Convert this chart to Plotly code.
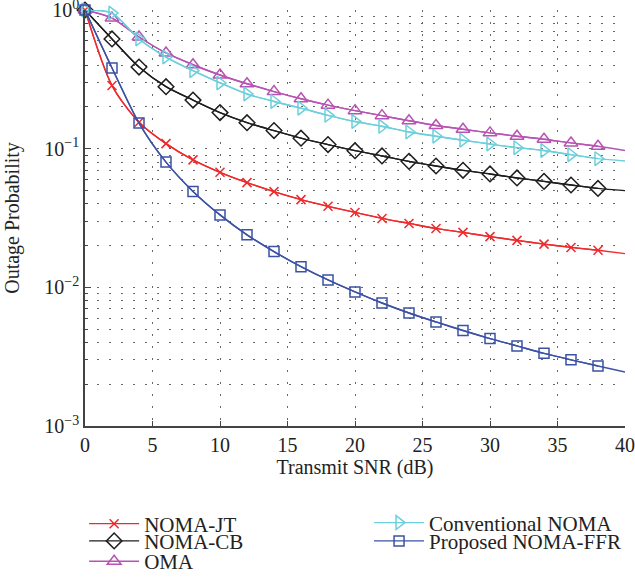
import plotly.graph_objects as go

snr = [0, 2, 4, 6, 8, 10, 12, 14, 16, 18, 20, 22, 24, 26, 28, 30, 32, 34, 36, 38, 40]

noma_jt = [1.0, 0.285, 0.155, 0.1087, 0.083, 0.0675, 0.0569, 0.049, 0.0429, 0.0384, 0.0347,
           0.0314, 0.0289, 0.0266, 0.0249, 0.0232, 0.0218, 0.0205, 0.0194, 0.0185, 0.0175]
noma_cb = [1.0, 0.618, 0.388, 0.280, 0.224, 0.182, 0.154, 0.135, 0.119, 0.107, 0.0967,
           0.0886, 0.081, 0.075, 0.0698, 0.0657, 0.0615, 0.0581, 0.0547, 0.0517, 0.0498]
oma = [1.0, 0.875, 0.639, 0.49, 0.403, 0.34, 0.294, 0.258, 0.229, 0.206, 0.188,
       0.173, 0.159, 0.147, 0.138, 0.130, 0.123, 0.117, 0.110, 0.104, 0.097]
conv_noma = [1.0, 0.95, 0.618, 0.458, 0.365, 0.298, 0.248, 0.219, 0.196, 0.174, 0.157,
             0.145, 0.132, 0.123, 0.115, 0.108, 0.1017, 0.097, 0.0905, 0.0847, 0.0815]
noma_ffr = [1.0, 0.382, 0.153, 0.080, 0.0492, 0.0333, 0.0239, 0.0181, 0.0141, 0.0113, 0.00927,
            0.00771, 0.00653, 0.00563, 0.00488, 0.00427, 0.00378, 0.00334, 0.0030, 0.00271, 0.00245]

names = ["NOMA-JT", "NOMA-CB", "OMA", "Conventional NOMA", "Proposed NOMA-FFR"]
series = [noma_jt, noma_cb, oma, conv_noma, noma_ffr]
colors = ["#ee2a2c", "#1e1e1e", "#b853b3", "#6ccfdc", "#3b52a5"]
symbols = ["x-thin-open", "diamond-open", "triangle-up-open", "triangle-right-open", "square-open"]
msizes = [9, 12, 12, 12, 10]
legend_ids = ["legend", "legend2", "legend3", "legend4", "legend5"]

y_tickvals = [1e-3, 1e-2, 1e-1, 1]
y_ticktext = ["10<sup>\u22123</sup>", "10<sup>\u22122</sup>", "10<sup>\u22121</sup>", "10<sup>0</sup>"]
x_tickvals = [0, 5, 10, 15, 20, 25, 30, 35, 40]

FONT = "Liberation Serif"
fig = go.Figure()
for name, ys, c, s, ms, lg in zip(names, series, colors, symbols, msizes, legend_ids):
    # line through all points (no legend)
    fig.add_trace(go.Scatter(x=snr, y=ys, mode="lines", line=dict(color=c, width=1.4, shape="spline", smoothing=0.8),
                             showlegend=False, hoverinfo="skip", cliponaxis=False))
    # markers every 2 dB up to 38 dB, legend entry with line + marker
    fig.add_trace(go.Scatter(x=snr[:-1], y=ys[:-1], mode="lines+markers", name=name, legend=lg,
                             line=dict(color=c, width=1.4, shape="spline", smoothing=0.8),
                             marker=dict(symbol=s, size=ms, color=c, line=dict(color=c, width=1.5)),
                             cliponaxis=False))

grid_dash = "2px,10px"
grid_color = "#666666"
fig.update_layout(
    width=635, height=578,
    margin=dict(l=85, r=10, t=10, b=152, autoexpand=False),
    paper_bgcolor="white", plot_bgcolor="white",
    font=dict(family=FONT, size=20, color="#222222"),
    xaxis=dict(range=[0, 40], tickmode="array", tickvals=x_tickvals, ticks="inside", ticklen=5,
               tickcolor="#444", showline=True, linecolor="#444", linewidth=1.5,
               showgrid=True, gridcolor=grid_color, griddash=grid_dash, gridwidth=1,
               zeroline=False, tickfont=dict(size=20), automargin=False, ticklabeloverflow="allow",
               title=dict(text="Transmit SNR (dB)", font=dict(size=20), standoff=3)),
    yaxis=dict(type="log", range=[-3, 0], tickmode="array", tickvals=y_tickvals, ticktext=y_ticktext,
               ticks="inside", ticklen=6, tickcolor="#444", showline=True, linecolor="#444", linewidth=1.5,
               showgrid=True, gridcolor=grid_color, griddash=grid_dash, gridwidth=1, zeroline=False,
               tickfont=dict(size=20), automargin=False, ticklabeloverflow="allow",
               minor=dict(tickmode="linear", dtick="D1", ticks="inside", ticklen=3, tickcolor="#444",
                          showgrid=True, gridcolor=grid_color, griddash=grid_dash, gridwidth=1),
               title=dict(text="Outage Probability", font=dict(size=20), standoff=19)),
)

leg_common = dict(font=dict(family=FONT, size=21, color="#222222"), bgcolor="rgba(0,0,0,0)",
                  borderwidth=0, xanchor="left", yanchor="middle", itemwidth=50)
positions = [(-0.0016, -0.2356), (-0.0016, -0.277), (-0.0016, -0.326), (0.526, -0.233), (0.526, -0.277)]
for lg, (lx, ly) in zip(legend_ids, positions):
    fig.update_layout({lg: dict(x=lx, y=ly, **leg_common)})

fig.write_html("out.html", config={"displayModeBar": False},
               post_script="document.body.style.margin='0';")
